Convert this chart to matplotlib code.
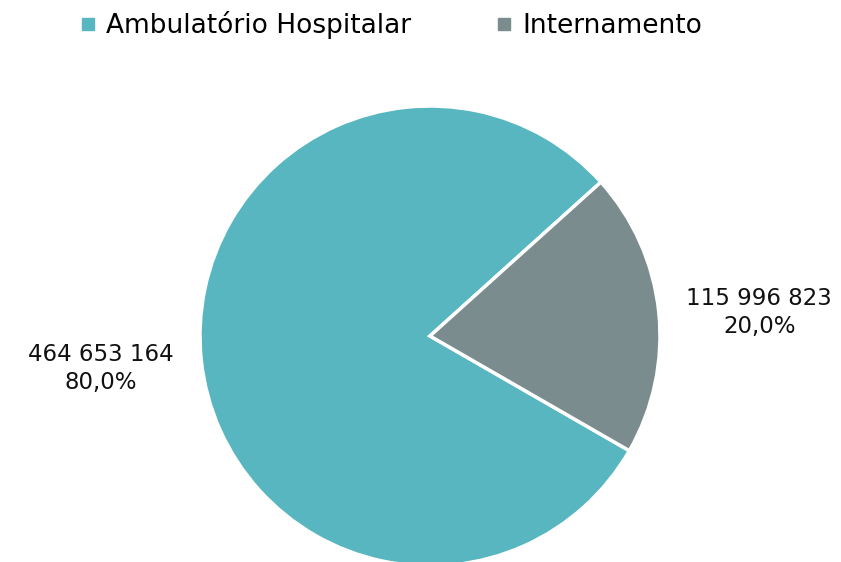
import matplotlib.pyplot as plt
from matplotlib.lines import Line2D

categories = ["Ambulatório Hospitalar", "Internamento"]
values = [464653164, 115996823]
colors = ["#58B6C0", "#7A8C8E"]


def fmt_num(v):
    return f"{v:,}".replace(",", " ")


plt.rcParams["font.family"] = ["DejaVu Sans"]

fig = plt.figure(figsize=(8.41, 5.62), dpi=100)
W, H = 841, 562
cx, cy, r = 430, 336, 230
ax = fig.add_axes([(cx - r) / W, (H - cy - r) / H, 2 * r / W, 2 * r / H])

total = sum(values)
labels = [f"{fmt_num(v)}\n{v / total * 100:.1f}%".replace(".", ",") for v in values]

wedges, texts = ax.pie(
    values,
    colors=colors,
    startangle=42,
    counterclock=True,
    labels=labels,
    labeldistance=1.44,
    wedgeprops={"edgecolor": "white", "linewidth": 2.5},
    textprops={"fontsize": 16.5, "color": "#111111", "linespacing": 1.3},
)
for t in texts:
    t.set_ha("center")
# rótulo da direita um pouco mais abaixo, como no original
x, y = texts[1].get_position()
texts[1].set_position((x, y - 0.05))
x, y = texts[0].get_position()
texts[0].set_position((x, y + 0.01))

ax.set_xlim(-1, 1)
ax.set_ylim(-1, 1)
ax.set_aspect("equal")
ax.axis("off")

handles = [
    Line2D([], [], marker="s", linestyle="", markersize=8, color=c) for c in colors
]
fig.legend(
    handles,
    categories,
    loc="center",
    bbox_to_anchor=(0.465, 1 - 25 / H),
    ncol=2,
    frameon=False,
    fontsize=19,
    handlelength=0.6,
    handletextpad=0.4,
    columnspacing=3.2,
)

fig.savefig("out.png", dpi=100)
